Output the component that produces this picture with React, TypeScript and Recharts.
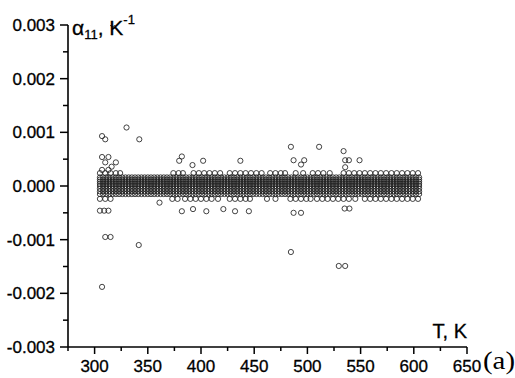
import { ScatterChart, Scatter, XAxis, YAxis } from 'recharts';

// tick positions (minor ticks have no label)
const xTicks = [275, 300, 325, 350, 375, 400, 425, 450, 475, 500, 525, 550, 575, 600, 625, 650];
const xLabels = [300, 350, 400, 450, 500, 550, 600, 650];
const yTicks = [-0.003, -0.0025, -0.002, -0.0015, -0.001, -0.0005, 0, 0.0005, 0.001, 0.0015, 0.002, 0.0025, 0.003];
const yLabels = [-0.003, -0.002, -0.001, 0, 0.001, 0.002, 0.003];

// measurement temperatures of the dense band, K
const temps = [
  305, 308, 311, 314, 317, 320, 323, 326, 329, 332, 335, 338, 341, 344, 347, 350, 353, 356, 359, 362,
  365, 368, 371, 374, 377, 380, 383, 386, 389, 392, 395, 398, 401, 404, 407, 410, 413, 416, 419, 422,
  425, 428, 431, 434, 437, 440, 443, 446, 449, 452, 455, 458, 461, 464, 467, 470, 473, 476, 479, 482,
  485, 488, 491, 494, 497, 500, 503, 506, 509, 512, 515, 518, 521, 524, 527, 530, 533, 536, 539, 542,
  545, 548, 551, 554, 557, 560, 563, 566, 569, 572, 575, 578, 581, 584, 587, 590, 593, 596, 599, 602, 605,
];
const denseLevels = [0.00016, 0.00012, 0.00008, 0.00004, 0, -0.00005, -0.0001, -0.00015];

// rows of separate circles just outside the band
const upperRowLevel = 0.00024;
const upperRowT = [
  305, 310, 315, 320, 324, 374, 379, 383, 393, 398, 403, 408, 413, 418, 427, 432, 437, 442, 447, 452, 457,
  465, 470, 475, 479, 489, 496, 505, 510, 515, 521, 534, 539, 544, 549, 554, 559, 564, 569, 574, 579, 584,
  589, 594, 599, 604,
];
const lowerRowLevel = -0.00024;
const lowerRowT = [
  305, 310, 315, 373, 378, 385, 390, 395, 400, 405, 410, 416, 427, 432, 437, 442, 446, 462, 470, 484, 489,
  494, 499, 503, 509, 514, 519, 524, 529, 534, 539, 545, 554, 559, 564, 569, 574, 579, 584, 589, 594, 599, 604,
];

// scattered points [T, alpha]
const outliers: [number, number][] = [
  [317, 0.00302], [330, 0.00109], [307, 0.00093], [310, 0.00087], [342, 0.00087],
  [307, 0.00054], [313, 0.00054], [310, 0.00044], [320, 0.00044], [316, 0.00036], [307, 0.0003], [313, 0.0003],
  [382, 0.00055], [379.5, 0.00047], [392, 0.00039], [402, 0.00047], [437, 0.00047],
  [484.5, 0.00073], [511, 0.00073], [534, 0.00065], [487, 0.00048], [497, 0.00048], [494, 0.0004],
  [535.5, 0.00048], [539, 0.00048], [535.5, 0.00035], [549, 0.00048],
  [361, -0.00031], [305, -0.00046], [309, -0.00046], [313, -0.00046],
  [382, -0.00047], [392.5, -0.00043], [405, -0.00047], [421, -0.00043], [432, -0.00047], [445, -0.00047],
  [487, -0.0005], [494, -0.0005], [535, -0.00042], [539.5, -0.00042],
  [310, -0.00095], [315, -0.00095], [341.5, -0.0011], [307, -0.00188], [484.5, -0.00123],
  [529.5, -0.00149], [535.5, -0.00149],
];

const points = [
  ...denseLevels.flatMap((v) => temps.map((t) => ({ t, v }))),
  ...upperRowT.map((t) => ({ t, v: upperRowLevel })),
  ...lowerRowT.map((t) => ({ t, v: lowerRowLevel })),
  ...outliers.map(([t, v]) => ({ t, v })),
];

const FONT = '"Liberation Sans", Arial, sans-serif';

const Ring = (p: any) => (
  <circle cx={p.cx} cy={p.cy} r={2.6} fill="none" stroke="#222" strokeWidth={0.85} />
);

const XTick = (p: any) => {
  const val = p.payload.value;
  const major = xLabels.includes(val);
  return (
    <g>
      <line x1={p.x} x2={p.x} y1={p.y} y2={p.y + (major ? 7 : 4)} stroke="#000" strokeWidth={1.5} />
      {major && (
        <text x={p.x} y={p.y + 25} textAnchor="middle" fontSize={17} fontFamily={FONT} fill="#000" stroke="#000" strokeWidth={0.3}>
          {val}
        </text>
      )}
    </g>
  );
};

const YTick = (p: any) => {
  const val = p.payload.value;
  const major = yLabels.some((l) => Math.abs(l - val) < 1e-9);
  return (
    <g>
      <line x1={p.x - (major ? 8 : 5)} x2={p.x} y1={p.y} y2={p.y} stroke="#000" strokeWidth={1.5} />
      {major && (
        <text x={p.x - 13} y={p.y} dy="0.36em" textAnchor="end" fontSize={17} fontFamily={FONT} fill="#000" stroke="#000" strokeWidth={0.3}>
          {val.toFixed(3)}
        </text>
      )}
    </g>
  );
};

export default function App() {
  return (
    <div style={{ position: 'relative', width: 515, height: 378, background: '#fff' }}>
      <style>{`body{margin:0}`}</style>
      <ScatterChart width={515} height={378} margin={{ top: 25, right: 48, bottom: 1, left: 8 }}>
        <XAxis
          type="number"
          dataKey="t"
          domain={[275, 650]}
          ticks={xTicks}
          interval={0}
          tickSize={0}
          tickMargin={0}
          tickLine={false}
          tick={<XTick />}
          height={30}
          axisLine={{ stroke: '#000', strokeWidth: 1.6 }}
          allowDataOverflow
        />
        <YAxis
          type="number"
          dataKey="v"
          domain={[-0.003, 0.003]}
          ticks={yTicks}
          interval={0}
          tickSize={0}
          tickMargin={0}
          tickLine={false}
          tick={<YTick />}
          width={60}
          axisLine={{ stroke: '#000', strokeWidth: 1.6 }}
          allowDataOverflow
        />
        <Scatter data={points} shape={Ring} isAnimationActive={false} />
      </ScatterChart>
      <svg width={515} height={378} style={{ position: 'absolute', left: 0, top: 0, pointerEvents: 'none' }}>
        <text x={72} y={35} fontSize={21} fontFamily={FONT} fill="#000" stroke="#000" strokeWidth={0.3}>
          <tspan>α</tspan>
          <tspan fontSize={13} dy={4}>11</tspan>
          <tspan dy={-4}>, K</tspan>
          <tspan fontSize={13} dy={-11}>-1</tspan>
        </text>
        <text x={467} y={338} textAnchor="end" fontSize={20} fontFamily={FONT} fill="#000" stroke="#000" strokeWidth={0.3}>
          T, K
        </text>
        <text
          x={483}
          y={369}
          fontSize={26}
          fontFamily='"Liberation Serif", "Times New Roman", serif'
          textLength={32}
          lengthAdjust="spacingAndGlyphs"
          fill="#000"
        >
          (a)
        </text>
      </svg>
    </div>
  );
}
